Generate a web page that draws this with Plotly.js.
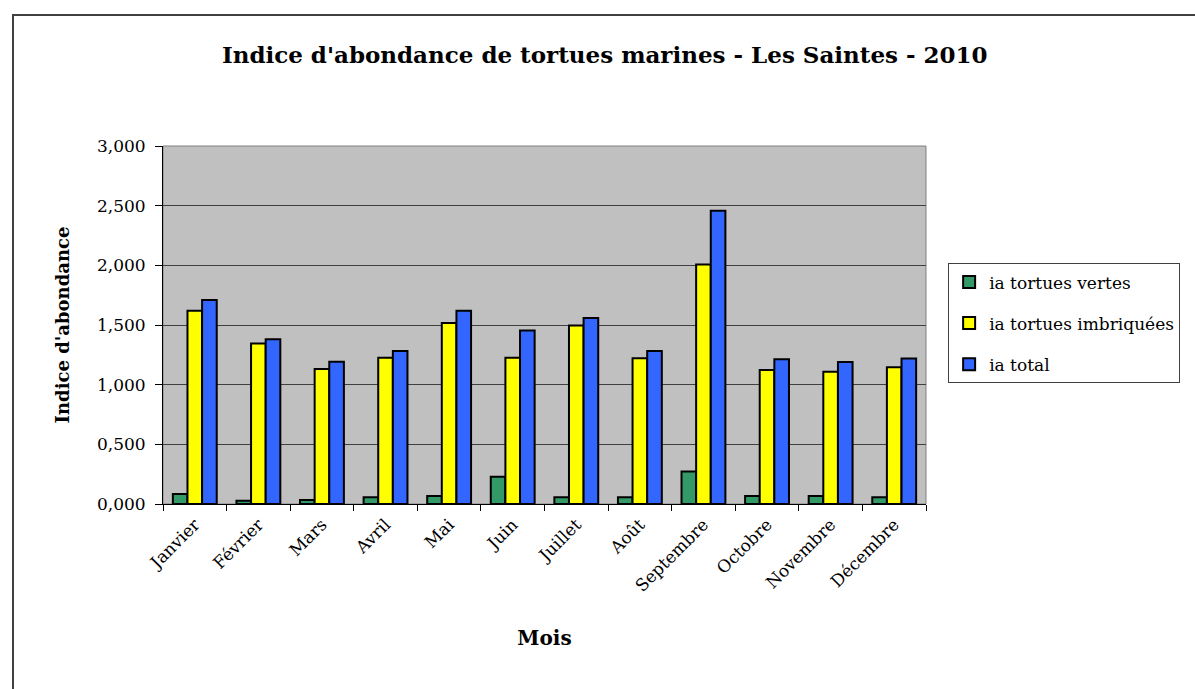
<!DOCTYPE html>
<html>
<head>
<meta charset="utf-8">
<script src="https://cdn.plot.ly/plotly-3.0.1.min.js"></script>
<style>
  html, body { margin: 0; padding: 0; background: #fff; }
  #wrap { position: relative; width: 1195px; height: 689px; overflow: hidden; }
  #chart { position: absolute; left: 0; top: 0; width: 1195px; height: 689px; }
  #frame { position: absolute; left: 12px; top: 14px; width: 1200px; height: 700px;
           border-top: 2px solid #404040; border-left: 2px solid #404040; pointer-events: none; }
</style>
</head>
<body>
<div id="wrap">
  <div id="chart"></div>
  <div id="frame"></div>
</div>
<script>
const months = ["Janvier", "Février", "Mars", "Avril", "Mai", "Juin", "Juillet", "Août", "Septembre", "Octobre", "Novembre", "Décembre"];
const tortuesVertes = [0.084, 0.028, 0.033, 0.056, 0.067, 0.229, 0.056, 0.056, 0.273, 0.067, 0.067, 0.056];
const tortuesImbriquees = [1.620, 1.344, 1.131, 1.226, 1.517, 1.226, 1.495, 1.221, 2.006, 1.123, 1.109, 1.145];
const total = [1.710, 1.380, 1.193, 1.282, 1.620, 1.453, 1.559, 1.282, 2.458, 1.212, 1.190, 1.220];
const seriesNames = ["ia tortues vertes", "ia tortues imbriquées", "ia total"];
const yTickVals = [0, 0.5, 1, 1.5, 2, 2.5, 3];

const serif = "DejaVu Serif, Liberation Serif, serif";
const colors = ["#339966", "#FFFF00", "#3366FF"];
const seriesData = [tortuesVertes, tortuesImbriquees, total];

const traces = seriesData.map((vals, i) => ({
  type: "bar",
  name: seriesNames[i],
  x: months,
  y: vals,
  legendgroup: "g" + i,
  marker: { color: colors[i], line: { color: "#000", width: 2 } },
  hoverinfo: "x+y+name"
}));

const layout = {
  width: 1195,
  height: 689,
  paper_bgcolor: "rgba(0,0,0,0)",
  plot_bgcolor: "#C0C0C0",
  separators: ",.",
  margin: { l: 163, r: 269, t: 146, b: 185 },
  barmode: "group",
  bargap: 0.31,
  bargroupgap: 0,
  title: {
    text: "Indice d'abondance de tortues marines - Les Saintes - 2010",
    font: { family: serif, size: 23, color: "#000", weight: "bold" },
    x: 0.579, xanchor: "center", xref: "paper",
    y: 1 - 55 / 689, yanchor: "middle", yref: "container"
  },
  xaxis: {
    type: "category",
    tickangle: -45,
    tickson: "boundaries",
    ticks: "outside",
    ticklen: 6,
    tickcolor: "#000",
    ticklabelstandoff: 3,
    showline: true,
    linecolor: "#000",
    linewidth: 1,
    showgrid: false,
    tickfont: { family: serif, size: 17, color: "#000" },
    title: { text: "Mois", font: { family: serif, size: 20, color: "#000", weight: "bold" }, standoff: 36 }
  },
  yaxis: {
    range: [0, 3],
    tickvals: yTickVals,
    tickformat: ".3f",
    ticks: "outside",
    ticklen: 7,
    tickcolor: "#000",
    ticklabelstandoff: 6,
    showline: true,
    linecolor: "#000",
    linewidth: 1,
    gridcolor: "#404040",
    gridwidth: 1,
    zeroline: false,
    tickfont: { family: serif, size: 17, color: "#000" },
    title: { text: "Indice d'abondance", font: { family: serif, size: 18, color: "#000", weight: "bold" }, standoff: 22 }
  },
  legend: {
    x: 1.029, xanchor: "left",
    y: 0.672, yanchor: "top",
    bgcolor: "#fff",
    bordercolor: "#404040",
    borderwidth: 1,
    traceorder: "grouped",
    tracegroupgap: 16,
    font: { family: serif, size: 17, color: "#000" }
  },
  shapes: [
    { type: "rect", xref: "paper", yref: "paper", x0: 0, x1: 1, y0: 0, y1: 1,
      line: { color: "#808080", width: 1 }, fillcolor: "rgba(0,0,0,0)", layer: "below" }
  ]
};

Plotly.newPlot("chart", traces, layout, { displayModeBar: false });
</script>
</body>
</html>
